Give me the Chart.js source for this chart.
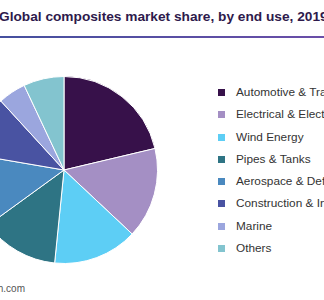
<!DOCTYPE html>
<html>
<head>
<meta charset="utf-8">
<script src="https://cdn.jsdelivr.net/npm/chart.js@4/dist/chart.umd.min.js"></script>
<style>
  html, body { margin: 0; padding: 0; background: #fff; overflow: hidden; }
  body { width: 324px; height: 300px; position: relative; font-family: "Liberation Sans", Arial, sans-serif; }
  #title { position: absolute; left: -1px; top: 9px; white-space: nowrap; font-weight: bold; font-size: 13.7px; color: #2e1a4c; }
  #rule { position: absolute; left: 0; top: 36px; width: 324px; height: 2px; background: linear-gradient(to right, #45509e, #6a4ea8); }
  #pieBox { position: absolute; left: -36px; top: 70px; width: 200px; height: 200px; }
  #legend { position: absolute; left: 218px; top: 85px; }
  .row { height: 22.3px; white-space: nowrap; font-size: 11.8px; color: #333; position: relative; }
  .sw { position: absolute; left: 0; top: 4px; width: 7px; height: 7px; }
  .lbl { position: absolute; left: 18px; top: 0; line-height: 15px; }
  #source { position: absolute; right: 299px; top: 283px; white-space: nowrap; font-size: 10px; color: #555; }
</style>
</head>
<body>
<div id="title">Global composites market share, by end use, 2019</div>
<div id="rule"></div>
<div id="pieBox"><canvas id="pie" width="200" height="200"></canvas></div>
<div id="legend"></div>
<div id="source">Source: www.grandviewresearch.com</div>
<script>
// data (% share)
const categories = ["Automotive & Transportation", "Electrical & Electronics", "Wind Energy", "Pipes & Tanks",
  "Aerospace & Defense", "Construction & Infrastructure", "Marine", "Others"];
const shares = [21.3, 15.7, 14.6, 13.4, 12.7, 10.5, 4.8, 7.0];
const colors = ["#37114a", "#a48fc4", "#5dcef5", "#2e7484", "#4a89bf", "#4953a2", "#9ba6de", "#83c4cf"];

// legend
const legend = document.getElementById("legend");
categories.forEach((c, i) => {
  const row = document.createElement("div");
  row.className = "row";
  row.innerHTML = `<span class="sw" style="background:${colors[i]}"></span><span class="lbl"></span>`;
  row.querySelector(".lbl").textContent = c;
  legend.appendChild(row);
});

new Chart(document.getElementById("pie"), {
  type: "pie",
  data: {
    labels: categories,
    datasets: [{
      data: shares,
      backgroundColor: colors,
      borderColor: "#fff",
      borderWidth: 1
    }]
  },
  options: {
    responsive: false,
    animation: false,
    layout: { padding: 6 },
    plugins: { legend: { display: false }, tooltip: { enabled: false } }
  }
});
</script>
</body>
</html>
